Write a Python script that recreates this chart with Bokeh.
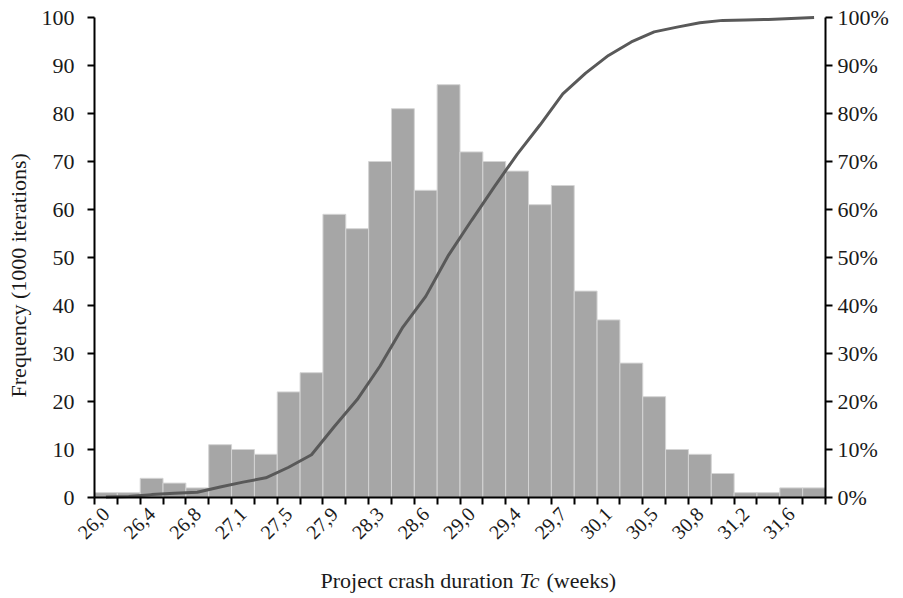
import numpy as np
from bokeh.plotting import figure
from bokeh.models import Range1d, LinearAxis, FixedTicker, Label, ColumnDataSource
from bokeh.embed import file_html
from bokeh.resources import INLINE

# ---- data ----
frequency = [1, 1, 4, 3, 2, 11, 10, 9, 22, 26, 59, 56, 70, 81, 64, 86,
             72, 70, 68, 61, 65, 43, 37, 28, 21, 10, 9, 5, 1, 1, 2, 2]
tick_labels = ["26,0", "26,4", "26,8", "27,1", "27,5", "27,9", "28,3", "28,6",
               "29,0", "29,4", "29,7", "30,1", "30,5", "30,8", "31,2", "31,6"]
cumulative_pct = list(np.cumsum(frequency) / np.sum(frequency) * 100.0)

n = len(frequency)
centers = [i + 0.5 for i in range(n)]

FONT = "Liberation Serif"
TXT = "#1a1a1a"

# geometry: the frame covers the whole canvas; axes are placed at fixed locations
W, H = 900, 597
X0, X1 = 94, 825          # pixel x of bin edge 0 and bin edge n
Y0, YPX = 497, 4.8        # pixel y of value 0, pixels per unit
sx = (X1 - X0) / n
x_start, x_end = -X0 / sx, (W - X0) / sx
y_start, y_end = -(H - Y0) / YPX, Y0 / YPX

p = figure(width=W, height=H, x_range=Range1d(x_start, x_end), y_range=Range1d(y_start, y_end),
           output_backend="svg", toolbar_location=None,
           min_border_left=0, min_border_right=0, min_border_top=0, min_border_bottom=0)
p.outline_line_color = None
p.xgrid.visible = False
p.ygrid.visible = False
p.background_fill_color = "white"
p.border_fill_color = "white"

src = ColumnDataSource(dict(x=centers, top=frequency, cum=cumulative_pct))
p.vbar(x="x", top="top", bottom=0, width=1.0, source=src, fill_color="#A6A6A6",
       line_color="#D4D4D4", line_width=1)

p.extra_y_ranges = {"pct": Range1d(y_start, y_end)}
p.line(x="x", y="cum", source=src, y_range_name="pct", line_color="#595959", line_width=3)

# x axis at value 0
xa = p.xaxis[0]
xa.fixed_location = 0
xa.bounds = (0, n)
label_pos = [2 * k + 0.5 for k in range(len(tick_labels))]
xa.ticker = FixedTicker(ticks=label_pos, minor_ticks=list(range(n + 1)))
xa.major_label_overrides = {pos: lab for pos, lab in zip(label_pos, tick_labels)}
xa.major_label_orientation = np.pi / 4
xa.major_tick_out = 0
xa.major_tick_in = 0
xa.minor_tick_out = 7
xa.minor_tick_in = 0
xa.axis_line_width = 2
xa.minor_tick_line_width = 2
xa.axis_line_color = "black"
xa.minor_tick_line_color = "black"
xa.major_label_text_font = FONT
xa.major_label_text_font_size = "20px"
xa.major_label_text_color = TXT
xa.major_label_standoff = 6

# left axis at bin edge 0
ya = p.yaxis[0]
ya.fixed_location = 0
ya.bounds = (0, 100)
ya.ticker = FixedTicker(ticks=list(range(0, 101, 10)))
ya.major_tick_out = 7
ya.major_tick_in = 0
ya.minor_tick_out = 0
ya.minor_tick_in = 0
ya.axis_line_width = 2
ya.major_tick_line_width = 2
ya.axis_line_color = "black"
ya.major_label_text_font = FONT
ya.major_label_text_font_size = "22px"
ya.major_label_text_color = TXT
ya.major_label_standoff = 13

# right axis at bin edge n
ra = LinearAxis(y_range_name="pct", ticker=FixedTicker(ticks=list(range(0, 101, 10))))
ra.fixed_location = n
ra.bounds = (0, 100)
ra.major_label_overrides = {v: f"{v}%" for v in range(0, 101, 10)}
ra.major_tick_out = 7
ra.major_tick_in = 0
ra.minor_tick_out = 0
ra.minor_tick_in = 0
ra.axis_line_width = 2
ra.major_tick_line_width = 2
ra.axis_line_color = "black"
ra.major_label_text_font = FONT
ra.major_label_text_font_size = "22px"
ra.major_label_text_color = TXT
ra.major_label_standoff = 5
p.add_layout(ra, "right")

# y axis title (rotated)
p.add_layout(Label(x=(18 - X0) / sx, y=(Y0 - 272) / YPX, text="Frequency  (1000 iterations)",
                   angle=np.pi / 2, text_align="center", text_baseline="middle",
                   text_font=FONT, text_font_size="22px", text_color=TXT))

# x axis title with italic Tc
ty = -(580 - Y0) / YPX
common = dict(y=ty, text_font=FONT, text_font_size="22px", text_color=TXT,
              text_baseline="middle")
p.add_layout(Label(x=(513 - X0) / sx, text="Project crash duration", text_align="right", **common))
p.add_layout(Label(x=(519 - X0) / sx, text="Tc", text_align="left", text_font_style="italic", **common))
p.add_layout(Label(x=(546 - X0) / sx, text="(weeks)", text_align="left", **common))

open("out.html", "w").write(file_html(p, INLINE))
